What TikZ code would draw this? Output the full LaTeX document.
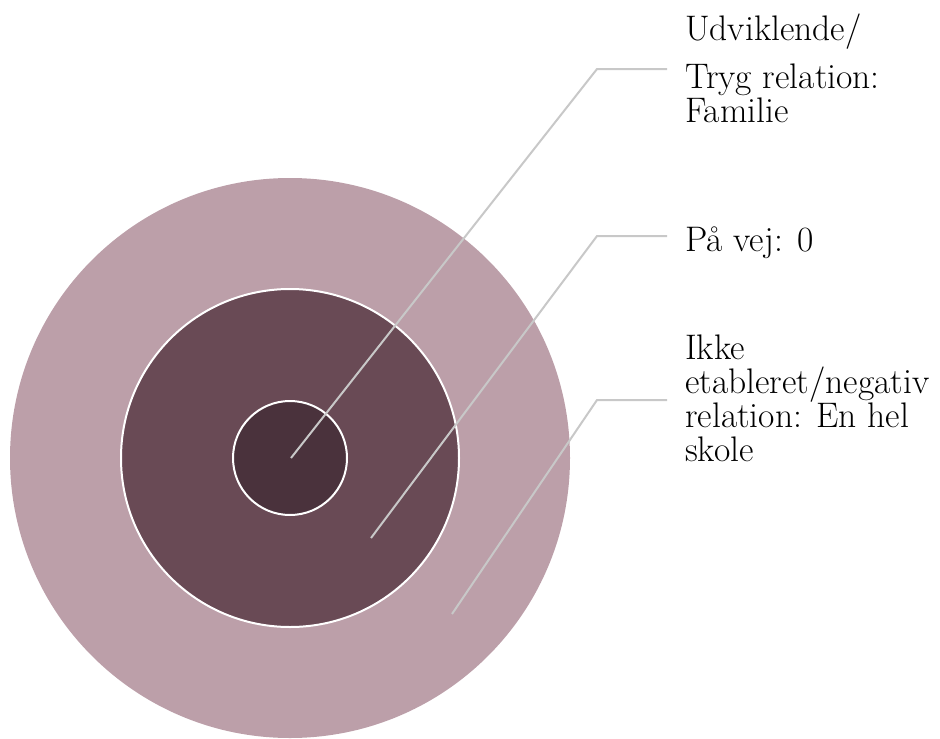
\documentclass[tikz,border=0pt]{standalone}
\usepackage{xcolor}
\usepackage{tikz}
\usetikzlibrary{positioning}
\definecolor{outerring}{HTML}{BC9FA9}
\definecolor{midring}{HTML}{694A55}
\definecolor{innerring}{HTML}{4A323C}
\definecolor{leadgray}{HTML}{C8C8C8}

\begin{document}
\begin{tikzpicture}[
x=1pt,y=-1pt,
ring/.style={circle,inner sep=0pt,outer sep=0pt},
leader/.style={draw=leadgray,line width=2pt},
lbl/.style={anchor=base west,align=left,inner sep=0pt,font=\fontsize{35.5}{34}\selectfont}
]
\useasboundingbox (0,0) rectangle (940,739);
% rings
\node[ring,fill=outerring,minimum size=560pt] (outer) at (290,458) {};
\node[ring,fill=midring,draw=white,line width=2pt,minimum size=338pt] (mid) at (290,458) {};
\node[ring,fill=innerring,draw=white,line width=2pt,minimum size=114pt] (inner) at (290,458) {};
% leader points
\coordinate (p1) at (291,458);
\coordinate (p2) at (371,538);
\coordinate (p3) at (452,614);
\coordinate (k1) at (597,69);
\coordinate (k2) at (597,236);
\coordinate (k3) at (597,400);
\coordinate (e1) at (667,69);
\coordinate (e2) at (667,236);
\coordinate (e3) at (667,400);
\draw[leader] (p1)--(k1)--(e1);
\draw[leader] (p2)--(k2)--(e2);
\draw[leader] (p3)--(k3)--(e3);
% labels (placed at the baseline of their last line)
\node[lbl] (fam) at (685,122) {Udviklende/\\[14pt]Tryg relation:\\Familie};
\node[lbl] (vej) at (685,251) {På vej: 0};
\node[lbl] (skole) at (685,461) {Ikke\\etableret/negativ\\relation: En hel\\skole};
\end{tikzpicture}
\end{document}
